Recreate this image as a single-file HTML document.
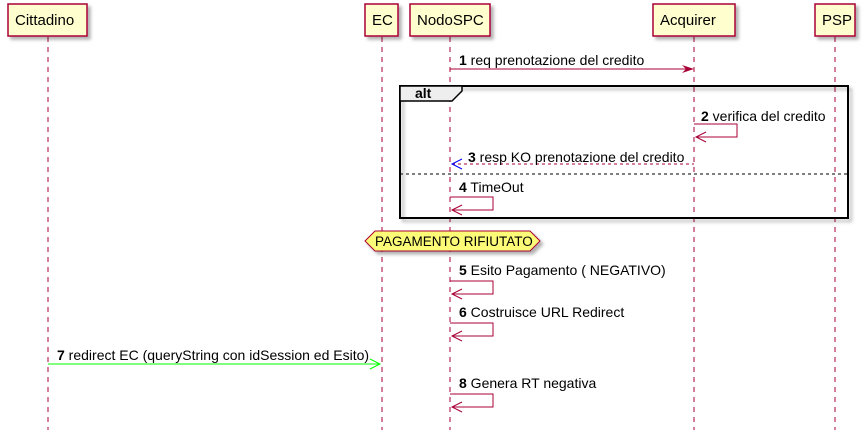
<!DOCTYPE html>
<html><head><style>body{margin:0;background:#fff}svg{display:block}text{font-family:"Liberation Sans","DejaVu Sans",sans-serif;font-size:14px;fill:#000}</style></head><body>
<svg width="865" height="435" xmlns="http://www.w3.org/2000/svg">
<defs>
<filter id="sh" x="-10%" y="-10%" width="130%" height="150%"><feDropShadow dx="3" dy="3" stdDeviation="1.5" flood-color="#000" flood-opacity="0.3"/></filter>
</defs>
<g stroke="#A80036" stroke-width="1" stroke-dasharray="5,5">
<line x1="48" y1="37" x2="48" y2="430"/><line x1="382" y1="37" x2="382" y2="430"/><line x1="450" y1="37" x2="450" y2="430"/><line x1="694" y1="37" x2="694" y2="430"/><line x1="835" y1="37" x2="835" y2="430"/>
</g>
<g fill="#FEFECE" stroke="#A80036" stroke-width="1.5" filter="url(#sh)">
<rect x="8" y="4" width="79" height="32"/><rect x="365" y="4" width="33" height="32"/><rect x="410" y="4" width="80" height="32"/><rect x="653" y="4" width="82" height="32"/><rect x="815" y="4" width="40" height="32"/>
</g>
<g><text x="15" y="25" style="font-size:15px">Cittadino</text><text x="372" y="25" style="font-size:15px">EC</text><text x="417" y="25" style="font-size:15px">NodoSPC</text><text x="660" y="25" style="font-size:15px">Acquirer</text><text x="822" y="25" style="font-size:15px">PSP</text></g>
<!-- 1 -->
<line x1="450" y1="69" x2="692" y2="69" stroke="#A80036"/>
<polygon points="694,69 682,65 686,69 682,73" fill="#A80036"/>
<text x="459" y="65"><tspan font-weight="bold">1</tspan> req prenotazione del credito</text>
<!-- alt -->
<rect x="400" y="86" width="448" height="132" fill="none" stroke="#000" stroke-width="2" filter="url(#sh)"/>
<polygon points="400,86 462,86 462,91 452,101 400,101" fill="#EEE" stroke="#000" stroke-width="1.5"/>
<text x="415" y="98" font-weight="bold">alt</text>
<!-- 2 -->
<polyline points="694,124 737,124 737,137 696,137" fill="none" stroke="#A80036"/>
<polyline points="706,132 696,137 706,142" fill="none" stroke="#A80036"/>
<text x="701" y="121"><tspan font-weight="bold">2</tspan> verifica del credito</text>
<!-- 3 -->
<line x1="452" y1="164" x2="694" y2="164" stroke="#A80036" stroke-dasharray="3,3"/>
<polyline points="462,159 452,164 462,169" fill="none" stroke="#0000FF"/>
<text x="468" y="162"><tspan font-weight="bold">3</tspan> resp KO prenotazione del credito</text>
<line x1="400" y1="174" x2="848" y2="174" stroke="#000" stroke-dasharray="3,3"/>
<!-- 4 -->
<polyline points="450,197 493,197 493,210 452,210" fill="none" stroke="#A80036"/>
<polyline points="462,205 452,210 462,215" fill="none" stroke="#A80036"/>
<text x="459" y="192"><tspan font-weight="bold">4</tspan> TimeOut</text>
<!-- hexagon -->
<polygon points="365,241 375,231 530,231 540,241 530,251 375,251" fill="#FBFB77" stroke="#A80036" filter="url(#sh)"/>
<text x="375" y="246" style="font-size:13.5px">PAGAMENTO RIFIUTATO</text>
<!-- 5 -->
<polyline points="450,281 493,281 493,294 452,294" fill="none" stroke="#A80036"/>
<polyline points="462,289 452,294 462,299" fill="none" stroke="#A80036"/>
<text x="459" y="275"><tspan font-weight="bold">5</tspan> Esito Pagamento ( NEGATIVO)</text>
<!-- 6 -->
<polyline points="450,323 493,323 493,336 452,336" fill="none" stroke="#A80036"/>
<polyline points="462,331 452,336 462,341" fill="none" stroke="#A80036"/>
<text x="459" y="317"><tspan font-weight="bold">6</tspan> Costruisce URL Redirect</text>
<!-- 7 -->
<line x1="48" y1="364" x2="380" y2="364" stroke="#00FF00"/>
<polyline points="370,359 380,364 370,369" fill="none" stroke="#00FF00"/>
<text x="57" y="360"><tspan font-weight="bold">7</tspan> redirect EC (queryString con idSession ed Esito)</text>
<!-- 8 -->
<polyline points="450,394 493,394 493,407 452,407" fill="none" stroke="#A80036"/>
<polyline points="462,402 452,407 462,412" fill="none" stroke="#A80036"/>
<text x="459" y="388"><tspan font-weight="bold">8</tspan> Genera RT negativa</text>
</svg>
</body></html>
